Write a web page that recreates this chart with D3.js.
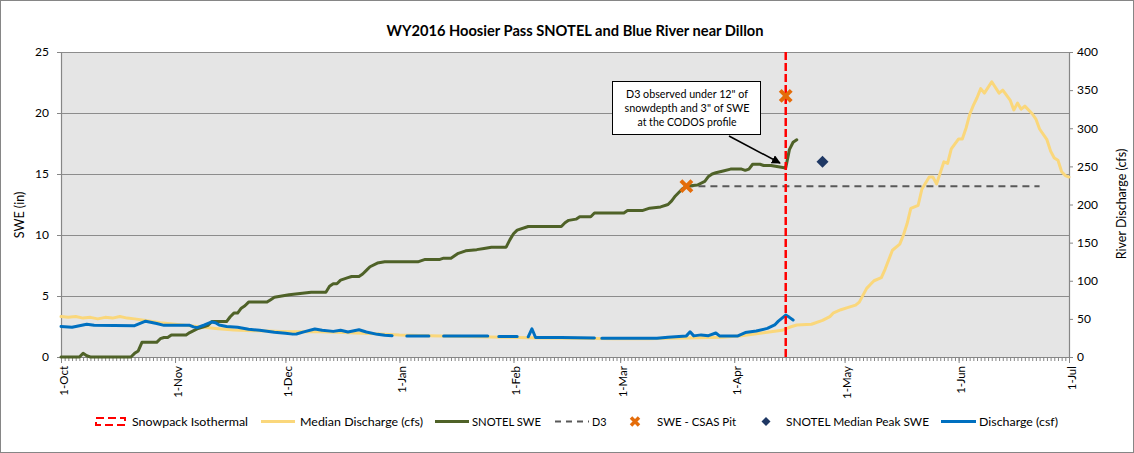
<!DOCTYPE html>
<html><head><meta charset="utf-8">
<script src="https://cdn.jsdelivr.net/npm/d3@7"></script>
<style>
body{margin:0;background:#fff}
text{font-family:Lato,"Liberation Sans",Arial,sans-serif;fill:#000}
</style>
</head><body>
<svg id="c" width="1134" height="453"></svg>
<script>
// ---------- DATA ----------
const chartTitle = "WY2016 Hoosier Pass SNOTEL and Blue River near Dillon";
const monthTicks = ["2015-10-01","2015-11-01","2015-12-01","2016-01-01","2016-02-01","2016-03-01","2016-04-01","2016-05-01","2016-06-01","2016-07-01"];
const monthLabels = ["1-Oct","1-Nov","1-Dec","1-Jan","1-Feb","1-Mar","1-Apr","1-May","1-Jun","1-Jul"];
const sweTicks = [0,5,10,15,20,25];
const cfsTicks = [0,50,100,150,200,250,300,350,400];
const leftTitle = "SWE (in)";
const rightTitle = "River Discharge (cfs)";

// SNOTEL SWE (in)
const sweSeries = [
["2015-10-01",0],["2015-10-06",0],["2015-10-07",0.3],["2015-10-08",0.1],["2015-10-09",0],["2015-10-20",0],
["2015-10-21",0.3],["2015-10-22",0.5],["2015-10-23",1.2],["2015-10-27",1.2],["2015-10-28",1.5],["2015-10-29",1.6],
["2015-10-30",1.6],["2015-10-31",1.8],["2015-11-04",1.8],["2015-11-05",2.0],["2015-11-07",2.3],["2015-11-09",2.5],
["2015-11-10",2.6],["2015-11-11",2.9],["2015-11-15",2.9],["2015-11-16",3.3],["2015-11-17",3.6],["2015-11-18",3.6],
["2015-11-19",4.0],["2015-11-20",4.2],["2015-11-21",4.5],["2015-11-26",4.5],["2015-11-27",4.7],["2015-11-28",4.9],
["2015-11-30",5.0],["2015-12-02",5.1],["2015-12-05",5.2],["2015-12-08",5.3],["2015-12-12",5.3],["2015-12-13",5.8],
["2015-12-14",6.0],["2015-12-15",6.0],["2015-12-16",6.3],["2015-12-18",6.5],["2015-12-19",6.6],["2015-12-21",6.6],
["2015-12-22",6.8],["2015-12-23",7.1],["2015-12-24",7.4],["2015-12-26",7.7],["2015-12-28",7.8],["2016-01-06",7.8],
["2016-01-08",8.0],["2016-01-12",8.0],["2016-01-13",8.1],["2016-01-15",8.1],["2016-01-17",8.5],["2016-01-19",8.7],
["2016-01-22",8.8],["2016-01-24",8.9],["2016-01-26",9.0],["2016-01-30",9.0],["2016-01-31",9.6],["2016-02-01",10.1],
["2016-02-02",10.4],["2016-02-05",10.7],["2016-02-14",10.7],["2016-02-15",11.0],["2016-02-16",11.2],["2016-02-18",11.3],
["2016-02-19",11.5],["2016-02-22",11.5],["2016-02-23",11.8],["2016-03-02",11.8],["2016-03-03",12.0],["2016-03-07",12.0],
["2016-03-09",12.2],["2016-03-12",12.3],["2016-03-14",12.5],["2016-03-15",12.8],["2016-03-16",13.2],["2016-03-17",13.5],
["2016-03-18",13.8],["2016-03-19",14.0],["2016-03-22",14.1],["2016-03-24",14.4],["2016-03-25",14.8],["2016-03-26",15.0],
["2016-03-27",15.1],["2016-03-29",15.25],["2016-03-31",15.4],["2016-04-03",15.4],["2016-04-04",15.3],["2016-04-05",15.4],
["2016-04-06",15.8],["2016-04-08",15.8],["2016-04-09",15.7],["2016-04-11",15.7],["2016-04-13",15.6],["2016-04-15",15.5],
["2016-04-16",17.0],["2016-04-17",17.6],["2016-04-18",17.8]
];

// Median Discharge (cfs)
const medianSeries = [
["2015-10-01",53],["2015-10-03",52],["2015-10-05",53],["2015-10-07",51],["2015-10-09",52],["2015-10-11",50],
["2015-10-13",52],["2015-10-15",51],["2015-10-17",53],["2015-10-19",51],["2015-10-21",50],["2015-10-24",48],
["2015-10-28",45],["2015-11-01",43],["2015-11-05",41],["2015-11-09",39],["2015-11-12",37.5],["2015-11-17",35.5],
["2015-11-22",34.5],["2015-11-26",34],["2015-11-30",33.5],["2015-12-03",33],["2015-12-08",33.5],["2015-12-15",32.5],
["2015-12-22",31],["2015-12-28",30],["2016-01-01",29],["2016-01-09",28],["2016-01-19",27],["2016-01-29",26],
["2016-02-08",25],["2016-02-18",24.5],["2016-02-28",24],["2016-03-09",24],["2016-03-14",24.5],["2016-03-19",25],
["2016-03-29",26],["2016-04-03",28],["2016-04-08",31],["2016-04-11",33],["2016-04-14",35],["2016-04-16",39],
["2016-04-18",42],["2016-04-22",43],["2016-04-25",48],["2016-04-27",53],["2016-04-28",58],["2016-04-30",62],
["2016-05-02",65],["2016-05-04",68],["2016-05-05",72],["2016-05-07",90],["2016-05-08",95],["2016-05-09",100],
["2016-05-11",104],["2016-05-12",115],["2016-05-14",140],["2016-05-16",148],["2016-05-17",160],["2016-05-18",175],
["2016-05-19",195],["2016-05-21",199],["2016-05-22",220],["2016-05-24",236],["2016-05-25",236],["2016-05-26",227],
["2016-05-28",256],["2016-05-29",254],["2016-05-30",273],["2016-06-01",286],["2016-06-02",286],["2016-06-03",300],
["2016-06-04",318],["2016-06-05",330],["2016-06-06",340],["2016-06-07",352],["2016-06-08",346],["2016-06-10",361],
["2016-06-12",346],["2016-06-13",350],["2016-06-15",337],["2016-06-16",324],["2016-06-17",333],["2016-06-18",325],
["2016-06-19",329],["2016-06-21",319],["2016-06-22",312],["2016-06-23",299],["2016-06-25",285],["2016-06-26",270],
["2016-06-27",261],["2016-06-28",258],["2016-06-29",243],["2016-06-30",238],["2016-07-01",236]
];

// Discharge (cfs), null = missing
const dischargeSeries = [
["2015-10-01",40],["2015-10-04",39],["2015-10-06",41],["2015-10-08",43],["2015-10-10",41.5],["2015-10-21",41],
["2015-10-23",45],["2015-10-24",47],["2015-10-25",46],["2015-10-27",44],["2015-10-29",41.5],["2015-11-05",41.5],
["2015-11-06",39.5],["2015-11-07",38.5],["2015-11-09",42],["2015-11-10",44],["2015-11-11",46],["2015-11-12",45],
["2015-11-13",42],["2015-11-15",40],["2015-11-18",39],["2015-11-21",36.5],["2015-11-24",35],["2015-11-28",32.5],
["2015-12-01",31],["2015-12-03",30],["2015-12-04",30.2],["2015-12-06",33],["2015-12-09",36.8],["2015-12-11",35],
["2015-12-14",33.6],["2015-12-16",35],["2015-12-18",32.8],["2015-12-21",35.8],["2015-12-23",32.8],["2015-12-26",29.7],
["2015-12-28",28.5],["2015-12-30",28],["2015-12-31",null],
["2016-01-03",27.7],["2016-01-09",27.7],["2016-01-10",null],
["2016-01-13",27.7],["2016-01-25",27.7],["2016-01-26",null],
["2016-01-28",27],["2016-02-02",27],["2016-02-03",null],
["2016-02-05",26.5],["2016-02-06",37],["2016-02-07",25.6],["2016-02-14",25.6],["2016-02-23",25],["2016-02-24",null],
["2016-02-25",24.5],["2016-03-11",24.5],["2016-03-14",26],["2016-03-19",27.7],["2016-03-20",33],["2016-03-21",27.7],
["2016-03-23",29],["2016-03-25",28],["2016-03-27",31.5],["2016-03-28",27.7],["2016-04-02",27.7],["2016-04-04",32],
["2016-04-07",34],["2016-04-10",37.5],["2016-04-12",42],["2016-04-13",47],["2016-04-15",55],["2016-04-16",52],
["2016-04-17",48.5]
];

const d3Series = [["2016-03-19",14.0],["2016-06-23",14.0]];
const pitSeries = [["2016-03-19",14.0],["2016-04-15",21.4]];
const medianPeakSeries = [["2016-04-25",16.0]];
const isothermalSeries = [["2016-04-15",0],["2016-04-15",25]];

const annotationLines = ["D3 observed under 12\" of","snowdepth and 3\" of SWE","at the CODOS profile"];
const legendLabels = ["Snowpack Isothermal","Median Discharge (cfs)","SNOTEL SWE","D3","SWE - CSAS Pit","SNOTEL Median Peak SWE","Discharge (csf)"];

// ---------- STYLE ----------
const C = {green:"#4F6228", blue:"#0070C0", yellow:"#FAD77B", red:"#FF0000", grey:"#595959", orange:"#E46C0A", navy:"#1F3864",
           grid:"#8C8C8C", axis:"#868686", bg:"#E5E5E5"};
const X0=61, X1=1069, Y0=357, Y1=52;

const parse = d3.utcParse("%Y-%m-%d");
const svg = d3.select("#c");

svg.append("rect").attr("x",0.5).attr("y",0.5).attr("width",1133).attr("height",452)
  .attr("fill","#fff").attr("stroke",C.axis);

const x = d3.scaleUtc().domain([parse(monthTicks[0]), parse(monthTicks[monthTicks.length-1])]).range([X0,X1]);
const yL = d3.scaleLinear().domain([sweTicks[0], sweTicks[sweTicks.length-1]]).range([Y0,Y1]);
const yR = d3.scaleLinear().domain([cfsTicks[0], cfsTicks[cfsTicks.length-1]]).range([Y0,Y1]);

// plot background
svg.append("rect").attr("x",X0).attr("y",Y1).attr("width",X1-X0).attr("height",Y0-Y1).attr("fill",C.bg);

// gridlines
svg.append("g").selectAll("line").data(sweTicks.slice(1)).join("line")
  .attr("x1",X0).attr("x2",X1).attr("y1",d=>Math.round(yL(d))+0.5).attr("y2",d=>Math.round(yL(d))+0.5)
  .attr("stroke",C.grid).attr("stroke-width",1);

// axes
function styleAxis(g){
  g.select(".domain").attr("stroke",C.axis).attr("stroke-width",1.2);
  g.selectAll(".tick line").attr("stroke",C.axis);
  g.selectAll("text").style("font-size","12px").attr("fill","#000");
}
const gL = svg.append("g").attr("transform",`translate(${X0},0)`)
  .call(d3.axisLeft(yL).tickValues(sweTicks).tickSize(4).tickSizeOuter(0).tickPadding(8)).call(styleAxis);
gL.attr("font-family",null);
const gR = svg.append("g").attr("transform",`translate(${X1},0)`)
  .call(d3.axisRight(yR).tickValues(cfsTicks).tickSize(4).tickSizeOuter(0).tickPadding(4)).call(styleAxis);
gR.attr("font-family",null);

// x axis: daily minor ticks
const gXm = svg.append("g").attr("transform",`translate(0,${Y0})`)
  .call(d3.axisBottom(x).ticks(d3.utcDay.every(1)).tickSize(4).tickSizeOuter(0).tickFormat(""));
gXm.select(".domain").attr("stroke",C.axis).attr("stroke-width",1.2);
gXm.selectAll(".tick line").attr("stroke",C.axis);
// month labels
const gX = svg.append("g").attr("transform",`translate(0,${Y0})`)
  .call(d3.axisBottom(x).tickValues(monthTicks.map(parse)).tickSize(6).tickSizeOuter(0)
        .tickFormat((d,i)=>monthLabels[i]));
gX.attr("font-family",null);
gX.select(".domain").remove();
gX.selectAll(".tick line").attr("stroke",C.axis);
gX.selectAll("text").style("font-size","11.5px").attr("fill","#000")
  .attr("transform","rotate(-90)").attr("x",-9).attr("y",6).attr("dy",0).style("text-anchor","end");

// axis titles
svg.append("text").attr("transform","translate(24,215) rotate(-90)").attr("text-anchor","middle")
  .style("font-size","12.5px").text(leftTitle);
svg.append("text").attr("transform","translate(1126,204) rotate(-90)").attr("text-anchor","middle")
  .style("font-size","12.5px").text(rightTitle);

// title
svg.append("text").attr("x",575).attr("y",36).attr("text-anchor","middle")
  .style("font-size","15px").style("font-weight","bold").attr("textLength",377).attr("lengthAdjust","spacingAndGlyphs")
  .text(chartTitle);

// lines
const lineL = d3.line().defined(d=>d[1]!=null).x(d=>x(parse(d[0]))).y(d=>yL(d[1]));
const lineR = d3.line().defined(d=>d[1]!=null).x(d=>x(parse(d[0]))).y(d=>yR(d[1]));

svg.append("path").datum(medianSeries).attr("d",lineR).attr("fill","none").attr("stroke",C.yellow)
  .attr("stroke-width",3).attr("stroke-linejoin","round").attr("stroke-linecap","round");
svg.append("path").datum(d3Series).attr("d",lineL).attr("fill","none").attr("stroke",C.grey)
  .attr("stroke-width",2).attr("stroke-dasharray","7,5");
svg.append("path").datum(sweSeries).attr("d",lineL).attr("fill","none").attr("stroke",C.green)
  .attr("stroke-width",3).attr("stroke-linejoin","round").attr("stroke-linecap","round");
svg.append("path").datum(dischargeSeries).attr("d",lineR).attr("fill","none").attr("stroke",C.blue)
  .attr("stroke-width",3).attr("stroke-linejoin","round").attr("stroke-linecap","round");
svg.append("path").datum(isothermalSeries).attr("d",lineL).attr("fill","none").attr("stroke",C.red)
  .attr("stroke-width",2.5).attr("stroke-dasharray","8,3");

// markers
const xPath = s => `M${-s},${-s}L${s},${s}M${-s},${s}L${s},${-s}`;
svg.append("g").selectAll("path").data(pitSeries).join("path")
  .attr("transform",d=>`translate(${x(parse(d[0]))},${yL(d[1])})`)
  .attr("d",xPath(5.5)).attr("stroke",C.orange).attr("stroke-width",4).attr("stroke-linecap","butt").attr("fill","none");
svg.append("g").selectAll("path").data(medianPeakSeries).join("path")
  .attr("transform",d=>`translate(${x(parse(d[0]))},${yL(d[1])})`)
  .attr("d","M0,-6L6,0L0,6L-6,0Z").attr("fill",C.navy);

// annotation
svg.append("defs").append("marker").attr("id","ah").attr("viewBox","0 0 10 10").attr("refX",9).attr("refY",5)
  .attr("markerWidth",6).attr("markerHeight",6).attr("orient","auto")
  .append("path").attr("d","M0,0L10,5L0,10Z").attr("fill","#000");
svg.append("line").attr("x1",729).attr("y1",136).attr("x2",780).attr("y2",163)
  .attr("stroke","#000").attr("stroke-width",1.5).attr("marker-end","url(#ah)");
svg.append("rect").attr("x",612.5).attr("y",81.5).attr("width",148).attr("height",53)
  .attr("fill","#fff").attr("stroke","#000").attr("stroke-width",1);
const annW = [122,125,99];
svg.append("g").selectAll("text").data(annotationLines).join("text")
  .attr("x",687).attr("y",(d,i)=>98+i*14).attr("text-anchor","middle").style("font-size","11.5px")
  .attr("textLength",(d,i)=>annW[i]).attr("lengthAdjust","spacingAndGlyphs").text(d=>d);

// legend
const LY = 421.5;
const lg = svg.append("g");
const legendText = [[132,116],[300,123],[472,69],[592,14.5],[657,79],[786,143],[979,79]];
lg.selectAll("text").data(legendLabels).join("text")
  .attr("x",(d,i)=>legendText[i][0]).attr("y",LY+4.5).style("font-size","12px")
  .attr("textLength",(d,i)=>legendText[i][1]).attr("lengthAdjust","spacingAndGlyphs").text(d=>d);
// icons
lg.append("rect").attr("x",96).attr("y",LY-3.5).attr("width",29).attr("height",7).attr("fill","none")
  .attr("stroke",C.red).attr("stroke-width",2).attr("stroke-dasharray","8,4");
lg.append("line").attr("x1",261).attr("x2",295).attr("y1",LY).attr("y2",LY).attr("stroke",C.yellow).attr("stroke-width",3);
lg.append("line").attr("x1",435).attr("x2",469).attr("y1",LY).attr("y2",LY).attr("stroke",C.green).attr("stroke-width",3);
lg.append("line").attr("x1",555).attr("x2",589).attr("y1",LY).attr("y2",LY).attr("stroke",C.grey).attr("stroke-width",2).attr("stroke-dasharray","6,5");
lg.append("path").attr("transform",`translate(635,${LY})`).attr("d",xPath(4)).attr("stroke",C.orange).attr("stroke-width",3.5);
lg.append("path").attr("transform",`translate(766,${LY})`).attr("d","M0,-4.5L4.5,0L0,4.5L-4.5,0Z").attr("fill",C.navy);
lg.append("line").attr("x1",941).attr("x2",976).attr("y1",LY).attr("y2",LY).attr("stroke",C.blue).attr("stroke-width",3);
</script>
</body></html>
